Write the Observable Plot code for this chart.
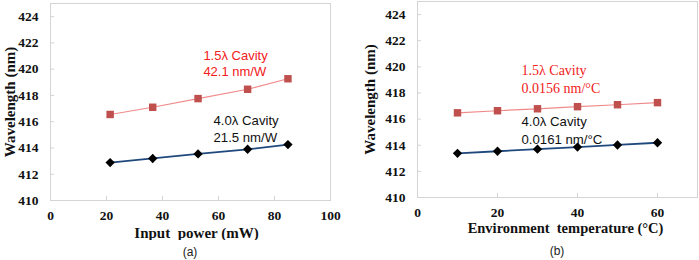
<!DOCTYPE html>
<html><head><meta charset="utf-8">
<script src="https://cdn.jsdelivr.net/npm/d3@7"></script>
<script src="https://cdn.jsdelivr.net/npm/@observablehq/plot@0.6"></script>
<style>
body{margin:0;background:#fff;}
#wrap{display:flex;width:699px;height:260px;}
.panel{position:relative;}
.cap{position:absolute;width:40px;text-align:center;font:12px "Liberation Sans",Arial,sans-serif;color:#222;}
</style></head>
<body><div id="wrap"><div class="panel" id="pa"></div><div class="panel" id="pb"></div></div>
<script>
// Panel (a): wavelength vs input power
const powerA = [21.3, 36.5, 52.7, 70.4, 84.8];
const cav15A = [416.55, 417.1, 417.76, 418.47, 419.27];
const cav40A = [412.89, 413.2, 413.55, 413.9, 414.26];
// Panel (b): wavelength vs environment temperature
const tempB = [10, 20, 30, 40, 50, 60];
const cav15B = [416.48, 416.64, 416.79, 416.95, 417.1, 417.26];
const cav40B = [413.38, 413.54, 413.7, 413.86, 414.02, 414.19];
// Axis ticks
const yTicks = [410, 412, 414, 416, 418, 420, 422, 424];
const xTicksA = [0, 20, 40, 60, 80, 100];
const xTicksB = [0, 20, 40, 60];
// Labels
const labelsA = ["1.5λ Cavity", "42.1 nm/W", "4.0λ Cavity", "21.5 nm/W"];
const labelsB = ["1.5λ Cavity", "0.0156 nm/°C", "4.0λ Cavity", "0.0161 nm/°C"];

const serif = '"Liberation Serif","Times New Roman",serif';
const sans = '"Liberation Sans",Arial,sans-serif';
const RED_M = "#c0504d", RED_L = "#f08a8a", BLUE = "#1f497d", RED_T = "#f22020";

function rows(xs, ys){ return xs.map((x,i)=>({x, y: ys[i]})); }

function panel({xs, y15, y40, xDomain, xTicks, xLabel, width, ml, mr, mt, mb, labels, ann, redSerif, xtPad, titleDy, titleDx, titleSize, yTitleDx}){
  const grey = "#d4d4d4";
  const redFont = redSerif ? {fontFamily: serif, fontSize: 14} : {fontFamily: sans, fontSize: 13};
  const tickFont = {fontWeight: "bold", fontSize: 13.5, fontFamily: serif, fill: "#111"};
  return Plot.plot({
    width, height: 240,
    marginLeft: ml, marginRight: mr, marginTop: mt, marginBottom: mb,
    style: {fontFamily: serif, background: "#fff"},
    x: {domain: xDomain},
    y: {domain: [410, 425]},
    marks: [
      Plot.frame({stroke: grey}),
      Plot.axisY(yTicks, {tickSize: -4, stroke: grey, tickFormat: () => "", label: null}),
      Plot.axisX(xTicks, {tickSize: -4, stroke: grey, tickFormat: () => "", label: null}),
      Plot.text(yTicks, {y: d => d, frameAnchor: "left", dx: -12, textAnchor: "end", lineAnchor: "middle", ...tickFont}),
      Plot.text(xTicks, {x: d => d, frameAnchor: "bottom", dy: xtPad + 4, textAnchor: "middle", lineAnchor: "middle", ...tickFont}),
      Plot.text([xLabel], {frameAnchor: "bottom", dy: titleDy, dx: titleDx, lineAnchor: "middle", textAnchor: "middle", fontWeight: "bold", fontSize: titleSize, fill: "#111", fontFamily: serif}),
      Plot.text(["Wavelength (nm)"], {frameAnchor: "left", dx: yTitleDx, rotate: -90, textAnchor: "middle", lineAnchor: "middle", fontWeight: "bold", fontSize: 15, fill: "#111", fontFamily: serif}),
      Plot.line(rows(xs, y15), {x: "x", y: "y", stroke: RED_L, strokeWidth: 1.2}),
      Plot.dot(rows(xs, y15), {x: "x", y: "y", symbol: "square", fill: RED_M, r: 4.2}),
      Plot.line(rows(xs, y40), {x: "x", y: "y", stroke: BLUE, strokeWidth: 1.8}),
      Plot.dot(rows(xs, y40), {x: "x", y: "y", symbol: "diamond2", fill: "#000", r: 4.2}),
      Plot.text([labels[0]], {x: ann[0][0], y: ann[0][1], textAnchor: "start", fill: RED_T, ...redFont}),
      Plot.text([labels[1]], {x: ann[1][0], y: ann[1][1], textAnchor: "start", fill: RED_T, ...redFont}),
      Plot.text([labels[2]], {x: ann[2][0], y: ann[2][1], textAnchor: "start", fill: "#111", fontSize: 13.2, fontFamily: sans}),
      Plot.text([labels[3]], {x: ann[3][0], y: ann[3][1], textAnchor: "start", fill: "#111", fontSize: 13.2, fontFamily: sans})
    ]
  });
}

const a = panel({xs: powerA, y15: cav15A, y40: cav40A, xDomain: [0, 100], xTicks: xTicksA,
  xLabel: "Input  power (mW)", width: 350, ml: 50, mr: 20, mt: 3, mb: 40,
  labels: labelsA, ann: [[54.6, 421.05], [54.6, 419.82], [58.2, 416.1], [58.2, 414.8]], redSerif: false,
  xtPad: 11, titleDy: 33, titleDx: 6, titleSize: 15, yTitleDx: -40});
const b = panel({xs: tempB, y15: cav15B, y40: cav40B, xDomain: [0, 70], xTicks: xTicksB,
  xLabel: "Environment  temperature (°C)", width: 349, ml: 67, mr: 2, mt: 1, mb: 43,
  labels: labelsB, ann: [[26, 419.75], [26, 418.36], [26, 415.82], [26, 414.44]], redSerif: true,
  xtPad: 11, titleDy: 31, titleDx: 8, titleSize: 14.5, yTitleDx: -47});
document.getElementById("pa").append(a);
document.getElementById("pb").append(b);
const ca = document.createElement("div"); ca.className = "cap"; ca.style.top = "245px"; ca.style.left = "170px"; ca.textContent = "(a)";
const cb = document.createElement("div"); cb.className = "cap"; cb.style.top = "244px"; cb.style.left = "187px"; cb.textContent = "(b)";
document.getElementById("pa").append(ca);
document.getElementById("pb").append(cb);
</script></body></html>
